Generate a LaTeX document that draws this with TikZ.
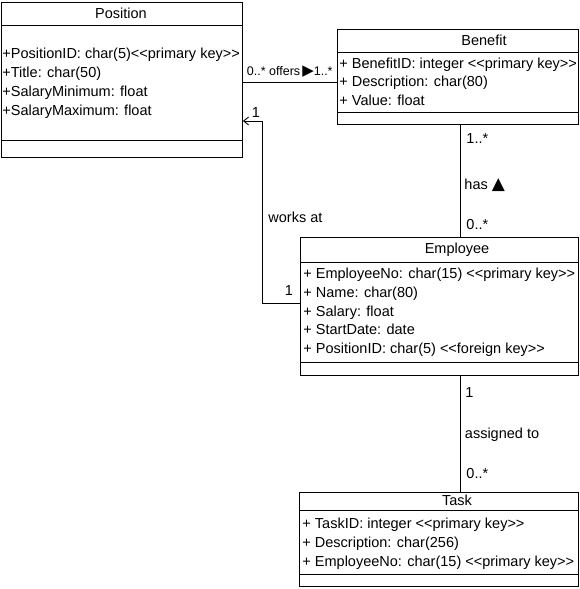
\documentclass[tikz,border=0pt]{standalone}
\usepackage{fontspec}
\setmainfont{Liberation Sans}
\newfontfamily\symfont{DejaVu Sans}
\usetikzlibrary{arrows.meta,calc}
\begin{document}
\begin{tikzpicture}[x=1pt,y=-1pt,line width=0.9pt,
  box/.style={draw,rectangle,anchor=north west,inner sep=0pt},
  txt/.style={inner sep=0pt,font=\fontsize{14.5}{17}\selectfont},
  attr/.style={txt,anchor=base west},
  ttl/.style={txt,anchor=base},
  lbl/.style={txt,anchor=base west},
  small/.style={inner sep=0pt,anchor=base west,font=\fontsize{12.5}{15}\selectfont},
  sep/.style={draw},
]
\useasboundingbox (0,0) rectangle (579,589);

% ---------- Position ----------
\node[box,minimum width=241.5pt,minimum height=155pt] (pos) at (0.5,2) {};
\coordinate (p1) at (0,25);
\coordinate (p2) at (0,140);
\draw (pos.west |- p1) -- (pos.east |- p1);
\draw (pos.west |- p2) -- (pos.east |- p2);
\node[ttl] (posT) at (121,18.3) {Position};
\node[attr] (posA1) at (2,58) {+PositionID: char(5)<{}<primary key>{}>};
\node[attr] (posA2) at (2,77) {+Title: char(50)};
\node[attr] (posA3) at (2,96) {+SalaryMinimum: float};
\node[attr] (posA4) at (2,115) {+SalaryMaximum: float};

% ---------- Benefit ----------
\node[box,minimum width=241pt,minimum height=95pt] (ben) at (337,29) {};
\coordinate (b1) at (0,52.7);
\coordinate (b2) at (0,112.7);
\draw (ben.west |- b1) -- (ben.east |- b1);
\draw (ben.west |- b2) -- (ben.east |- b2);
\node[ttl] (benT) at (484,45) {Benefit};
\node[attr] (benA1) at (339,68.3) {+ BenefitID: integer <{}<primary key>{}>};
\node[attr] (benA2) at (339,86.8) {+ Description: char(80)};
\node[attr] (benA3) at (339,105.3) {+ Value: float};

% ---------- Employee ----------
\node[box,minimum width=278pt,minimum height=138pt] (emp) at (300,237) {};
\coordinate (e1) at (0,262.3);
\coordinate (e2) at (0,362.7);
\draw (emp.west |- e1) -- (emp.east |- e1);
\draw (emp.west |- e2) -- (emp.east |- e2);
\node[ttl] (empT) at (457,253.5) {Employee};
\node[attr] (empA1) at (303,278.5) {+ EmployeeNo: char(15) <{}<primary key>{}>};
\node[attr] (empA2) at (303,297.2) {+ Name: char(80)};
\node[attr] (empA3) at (303,316) {+ Salary: float};
\node[attr] (empA4) at (303,334.7) {+ StartDate: date};
\node[attr] (empA5) at (303,353.4) {+ PositionID: char(5) <{}<foreign key>{}>};

% ---------- Task ----------
\node[box,minimum width=279pt,minimum height=94pt] (task) at (299,492) {};
\coordinate (t1) at (0,510);
\coordinate (t2) at (0,574);
\draw (task.west |- t1) -- (task.east |- t1);
\draw (task.west |- t2) -- (task.east |- t2);
\node[ttl] (taskT) at (457,505) {Task};
\node[attr] (taskA1) at (302,528) {+ TaskID: integer <{}<primary key>{}>};
\node[attr] (taskA2) at (302,547) {+ Description: char(256)};
\node[attr] (taskA3) at (302,566) {+ EmployeeNo: char(15) <{}<primary key>{}>};

% ---------- Connectors ----------
\coordinate (offy) at (0,82.3);
\draw (pos.east |- offy) -- (ben.west |- offy);
\node[small] (offL) at (246.5,75.5) {0..* offers\,{\symfont\fontsize{15}{15}\selectfont ▶}1..*};

\coordinate (wky) at (0,303.3);
\coordinate (wk) at (262.3,121);
\draw[-{Straight Barb[length=5pt,width=8pt]}] (emp.west |- wky) -| (wk) -- (pos.east |- wk);
\node[txt,anchor=base] (wkA) at (256,117) {1};
\node[lbl] (wkL) at (268,222) {works at};
\node[txt,anchor=base] (wkB) at (289,295) {1};

\coordinate (hx) at (460.7,0);
\draw (ben.south -| hx) -- (emp.north -| hx);
\node[lbl] (hasA) at (466,143) {1..*};
\node[lbl] (hasL) at (464,189) {has {\symfont\fontsize{17}{17}\selectfont ▲}};
\node[lbl] (hasB) at (466,229) {0..*};

\draw (emp.south -| hx) -- (task.north -| hx);
\node[lbl] (asA) at (465,397) {1};
\node[lbl] (asL) at (464.5,438) {assigned to};
\node[lbl] (asB) at (466,478) {0..*};
\end{tikzpicture}
\end{document}
